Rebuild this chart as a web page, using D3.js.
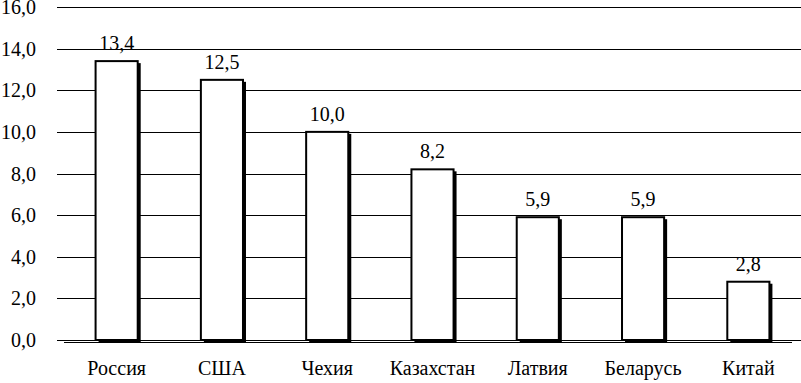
<!DOCTYPE html>
<html>
<head>
<meta charset="utf-8">
<script src="https://cdn.jsdelivr.net/npm/d3@7"></script>
<style>
  body { margin: 0; background: #fff; }
</style>
</head>
<body>
<div id="chart"></div>
<script>
// data
var countries = ["Россия", "США", "Чехия", "Казахстан", "Латвия", "Беларусь", "Китай"];
var values = [13.4, 12.5, 10.0, 8.2, 5.9, 5.9, 2.8];
var yTicks = [0, 2, 4, 6, 8, 10, 12, 14, 16];

var W = 801, H = 383;
var plotLeft = 64, plotRight = 801, plotTop = 7, plotBottom = 340;
var font = "'Liberation Serif', 'Times New Roman', serif";

var svg = d3.select("#chart").append("svg")
  .attr("width", W).attr("height", H);

var x = d3.scaleBand()
  .domain(countries)
  .range([plotLeft, plotRight])
  .paddingInner(0.6)
  .paddingOuter(0.3);

var y = d3.scaleLinear()
  .domain([0, 16])
  .range([plotBottom, plotTop]);

var fmt = function(v) { return d3.format(".1f")(v).replace(".", ","); };

// gridlines
svg.append("g").selectAll("line")
  .data(yTicks)
  .enter().append("line")
  .attr("x1", 57).attr("x2", W)
  .attr("y1", function(d) { return Math.round(y(d)) + 0.5; })
  .attr("y2", function(d) { return Math.round(y(d)) + 0.5; })
  .attr("stroke", "#000").attr("stroke-width", 1);

// floor line under the bars
svg.append("line")
  .attr("x1", plotLeft).attr("x2", 792)
  .attr("y1", y(0) + 2.5).attr("y2", y(0) + 2.5)
  .attr("stroke", "#000").attr("stroke-width", 1);

// y labels
svg.append("g").selectAll("text")
  .data(yTicks)
  .enter().append("text")
  .attr("x", 36)
  .attr("y", function(d) { return y(d); })
  .attr("dy", "0.35em")
  .attr("text-anchor", "end")
  .attr("font-family", font)
  .attr("font-size", 20)
  .text(fmt);

var bars = svg.append("g").selectAll("g")
  .data(values)
  .enter().append("g");

// shadow
bars.append("rect")
  .attr("x", function(d, i) { return x(countries[i]) + 3; })
  .attr("y", function(d) { return y(d) + 2; })
  .attr("width", x.bandwidth())
  .attr("height", function(d) { return plotBottom - y(d) + 1; })
  .attr("fill", "#000");

// bar
bars.append("rect")
  .attr("x", function(d, i) { return x(countries[i]); })
  .attr("y", function(d) { return y(d); })
  .attr("width", x.bandwidth())
  .attr("height", function(d) { return plotBottom - y(d); })
  .attr("fill", "#fff")
  .attr("stroke", "#000")
  .attr("stroke-width", 2);

// value labels
bars.append("text")
  .attr("x", function(d, i) { return x(countries[i]) + x.bandwidth() / 2; })
  .attr("y", function(d) { return y(d) - 11; })
  .attr("text-anchor", "middle")
  .attr("font-family", font)
  .attr("font-size", 20)
  .text(fmt);

// category labels
svg.append("g").selectAll("text")
  .data(countries)
  .enter().append("text")
  .attr("x", function(d) { return x(d) + x.bandwidth() / 2; })
  .attr("y", 375)
  .attr("text-anchor", "middle")
  .attr("font-family", font)
  .attr("font-size", 20)
  .text(function(d) { return d; });
</script>
</body>
</html>
